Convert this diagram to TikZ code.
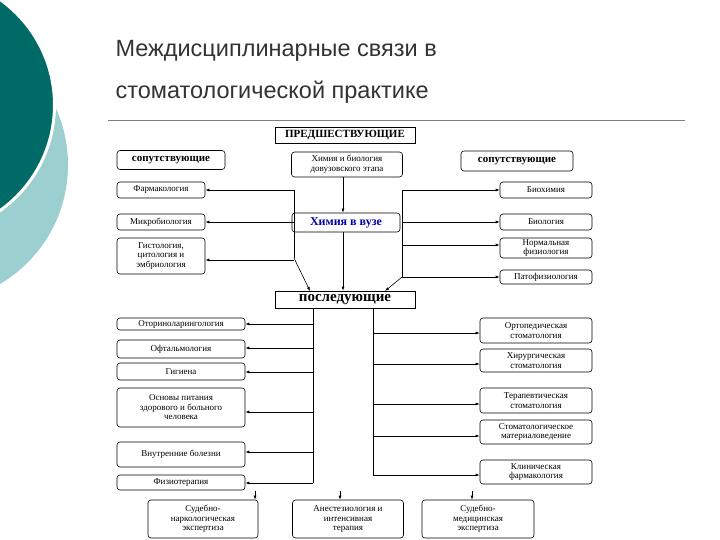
\documentclass[tikz,border=0pt]{standalone}
\usepackage{fontspec}
\setmainfont{Liberation Serif}
\newfontfamily\titlefont{Liberation Sans}
\usetikzlibrary{arrows.meta}
\definecolor{darkteal}{HTML}{006B66}
\definecolor{lightteal}{HTML}{9CCFCF}
\definecolor{titlegray}{HTML}{333333}
\tikzset{
 bx/.style={draw,rounded corners=3pt,align=center,font=\fontsize{9}{9.5}\selectfont,inner sep=1pt,line width=0.6pt},
 hd/.style={draw,align=center,font=\fontsize{11}{11}\selectfont\bfseries,inner sep=1pt,line width=0.6pt},
 ar/.style={-{Latex[length=4pt,width=3pt]},line width=0.6pt},
 ln/.style={line width=0.6pt}
}
\begin{document}
\begin{tikzpicture}[x=1pt,y=-1pt]
\useasboundingbox (0,0) rectangle (720,540);
\fill[white] (0,0) rectangle (720,540);
\begin{scope}
\clip (0,0) rectangle (720,540);
\fill[lightteal] (-70,165) circle (138);
\draw[darkteal,fill=darkteal,line width=0pt] (-75,105) circle (128);
\draw[white,line width=3pt] (-75,105) circle (129.5);
\end{scope}
\node[anchor=north west,align=left,text=titlegray,font=\titlefont\fontsize{23.5}{42}\selectfont] (title) at (112,37) {Междисциплинарные связи в\\стоматологической практике};
\draw[gray,line width=0.8pt] (108,120) -- (685,120);

% top section
\node[hd,minimum width=140,minimum height=16] (pred) at (345,135) {ПРЕДШЕСТВУЮЩИЕ};
\node[hd,rounded corners=3pt,minimum width=108,minimum height=19] (sopL) at (171,160) {сопутствующие};
\node[hd,rounded corners=3pt,minimum width=112,minimum height=20] (sopR) at (517,161) {сопутствующие};
\node[bx,minimum width=111,minimum height=25] (hb) at (347,164.5) {Химия и биология\\довузовского этапа};
\node[bx,minimum width=108,minimum height=19,text=blue!70!black,font=\fontsize{12}{12}\selectfont\bfseries] (hv) at (346,222.5) {Химия в вузе};
\node[bx,minimum width=88,minimum height=16] (farm) at (161,190) {Фармакология};
\node[bx,minimum width=88,minimum height=16] (micro) at (161,222) {Микробиология};
\node[bx,minimum width=88,minimum height=36] (gist) at (161,256) {Гистология,\\цитология и\\эмбриология};
\node[bx,minimum width=92,minimum height=16] (bioch) at (546,190) {Биохимия};
\node[bx,minimum width=92,minimum height=16] (bio) at (546,222) {Биология};
\node[bx,minimum width=92,minimum height=20] (norm) at (546,248) {Нормальная\\физиология};
\node[bx,minimum width=92,minimum height=14] (pato) at (546,277) {Патофизиология};
\node[hd,minimum width=140,minimum height=17,font=\fontsize{15}{15}\selectfont\bfseries] (posl) at (345,299.5) {последующие};

\coordinate (lt) at (294,190); \coordinate (lb) at (294,258);
\coordinate (rt) at (402,190); \coordinate (rb) at (402,277);
\draw[ln] (lt) -- (lb);
\draw[ar] (lb) -- (310,291);
\draw[ln] (rt) -- (rb);
\draw[ar] (rb) -- (385,291);
\draw[ar] (lt) -- (farm.east|-lt);
\draw[ar] (294,222) -- (micro.east|-0,222);
\draw[ar] (294,260) -- (gist.east|-0,260);
\draw[ar] (rt) -- (bioch.west|-rt);
\draw[ar] (402,222) -- (bio.west|-0,222);
\draw[ar] (402,245) -- (norm.west|-0,245);
\draw[ar] (rb) -- (pato.west|-rb);
\draw[ar] (hb.south-|343,0) -- (hv.north-|343,0);
\draw[ar] (hv.south-|343,0) -- (posl.north-|343,0);

% bottom section
\node[bx,minimum width=128,minimum height=12] (oto) at (181,324) {Оториноларингология};
\node[bx,minimum width=128,minimum height=18] (oft) at (181,349) {Офтальмология};
\node[bx,minimum width=128,minimum height=17] (gig) at (181,371.5) {Гигиена};
\node[bx,minimum width=128,minimum height=39] (osn) at (181,407.5) {Основы питания\\здорового и больного\\человека};
\node[bx,minimum width=128,minimum height=25] (vnut) at (181,454.5) {Внутренние болезни};
\node[bx,minimum width=128,minimum height=15] (fiz) at (181,482.5) {Физиотерапия};

\node[bx,minimum width=112,minimum height=25] (orto) at (536,330.5) {Ортопедическая\\стоматология};
\node[bx,minimum width=112,minimum height=23] (hir) at (536,360.5) {Хирургическая\\стоматология};
\node[bx,minimum width=112,minimum height=25] (ter) at (536,400.5) {Терапевтическая\\стоматология};
\node[bx,minimum width=112,minimum height=24] (mat) at (536,432) {Стоматологическое\\материаловедение};
\node[bx,minimum width=112,minimum height=24] (klin) at (536,472) {Клиническая\\фармакология};

\node[bx,minimum width=110,minimum height=38] (sud1) at (203,519) {Судебно-\\наркологическая\\экспертиза};
\node[bx,minimum width=111,minimum height=38] (anest) at (348,519) {Анестезиология и\\интенсивная\\терапия};
\node[bx,minimum width=112,minimum height=38] (sud2) at (478,519) {Судебно-\\медицинская\\экспертиза};

\draw[ln] (posl.south-|313,0) -- (313,483);
\foreach \n/\y in {oto/324,oft/348,gig/372,osn/412,vnut/452,fiz/483}
  \draw[ar] (313,\y) -- (\n.east|-0,\y);
\draw[ln] (posl.south-|373,0) -- (373,475);
\foreach \n/\y in {orto/333,hir/364,ter/404,mat/436,klin/475}
  \draw[ar] (373,\y) -- (\n.west|-0,\y);

\coordinate (a1) at (255,491); \coordinate (a2) at (340,491); \coordinate (a3) at (472,491);
\draw[ar] (a1) -- (a1|-sud1.north);
\draw[ar] (a2) -- (a2|-anest.north);
\draw[ar] (a3) -- (a3|-sud2.north);
\end{tikzpicture}
\end{document}
